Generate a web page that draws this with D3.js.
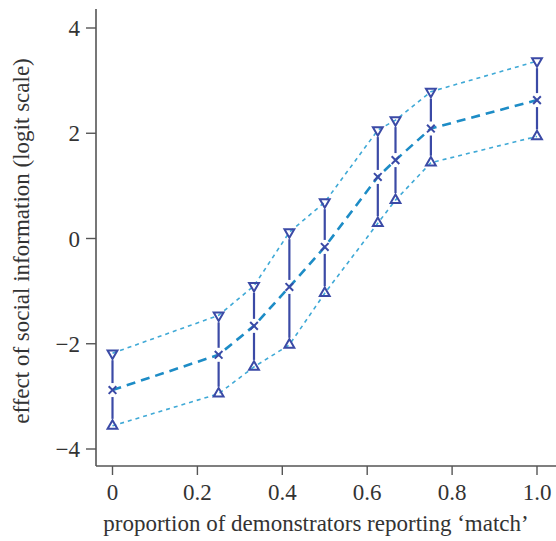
<!DOCTYPE html>
<html>
<head>
<meta charset="utf-8">
<script src="https://cdn.jsdelivr.net/npm/d3@7"></script>
<style>
  body { margin: 0; background: #fff; }
  text { font-family: 'Liberation Serif', 'DejaVu Serif', serif; fill: #333; }
</style>
</head>
<body>
<div id="chart"></div>
<script>
// proportion of demonstrators reporting 'match'
var props = [0, 0.25, 1 / 3, 5 / 12, 0.5, 0.625, 2 / 3, 0.75, 1.0];
// effect of social information (logit scale)
var means = [-2.88, -2.21, -1.66, -0.92, -0.16, 1.17, 1.49, 2.09, 2.63];
var upper = [-2.18, -1.46, -0.90, 0.12, 0.69, 2.06, 2.25, 2.79, 3.37];
var lower = [-3.56, -2.95, -2.44, -2.02, -1.04, 0.29, 0.73, 1.44, 1.94];
var xTicks = [0, 0.2, 0.4, 0.6, 0.8, 1.0];
var yTicks = [-4, -2, 0, 2, 4];

var W = 556, H = 541;
var axisLeft = 96, axisBottom = 466;
var markColor = '#3b4aa6';

var svg = d3.select('#chart')
  .append('svg')
    .attr('width', W)
    .attr('height', H);

var x = d3.scaleLinear().domain([0, 1]).range([112.5, 537]);
var y = d3.scaleLinear().domain([-4, 4]).range([449, 28]);

var rows = props.map((p, i) => ({ p: p, m: means[i], u: upper[i], l: lower[i] }));

// dashed lines through bounds and means
var line = key => d3.line().x(d => x(d.p)).y(d => y(d[key]))(rows);

svg.append('path')
  .attr('d', line('u'))
  .attr('fill', 'none')
  .attr('stroke', '#3fa9d6')
  .attr('stroke-width', 1.6)
  .attr('stroke-dasharray', '4,4');

svg.append('path')
  .attr('d', line('l'))
  .attr('fill', 'none')
  .attr('stroke', '#3fa9d6')
  .attr('stroke-width', 1.6)
  .attr('stroke-dasharray', '4,4');

svg.append('path')
  .attr('d', line('m'))
  .attr('fill', 'none')
  .attr('stroke', '#1d8cc6')
  .attr('stroke-width', 2.6)
  .attr('stroke-dasharray', '9,6');

// error bars, broken around markers
var gap = 7;
var bars = svg.append('g').attr('stroke', markColor).attr('stroke-width', 2.2);
rows.forEach(d => {
  var cx = x(d.p);
  bars.append('line')
    .attr('x1', cx).attr('x2', cx)
    .attr('y1', y(d.u) + gap).attr('y2', y(d.m) - gap);
  bars.append('line')
    .attr('x1', cx).attr('x2', cx)
    .attr('y1', y(d.m) + gap).attr('y2', y(d.l) - gap);
});

// triangle markers
var tri = d3.symbol().type(d3.symbolTriangle).size(42);
svg.append('g').selectAll('path.up')
  .data(rows)
  .join('path')
    .attr('transform', d => `translate(${x(d.p)}, ${y(d.l)})`)
    .attr('d', tri)
    .attr('fill', 'none')
    .attr('stroke', markColor)
    .attr('stroke-width', 2);

svg.append('g').selectAll('path.down')
  .data(rows)
  .join('path')
    .attr('transform', d => `translate(${x(d.p)}, ${y(d.u)}) rotate(180)`)
    .attr('d', tri)
    .attr('fill', 'none')
    .attr('stroke', markColor)
    .attr('stroke-width', 2);

// x marks for means
var cross = d3.symbol().type(d3.symbolX).size(40);
svg.append('g').selectAll('path.cross')
  .data(rows)
  .join('path')
    .attr('transform', d => `translate(${x(d.p)}, ${y(d.m)})`)
    .attr('d', cross)
    .attr('fill', 'none')
    .attr('stroke', markColor)
    .attr('stroke-width', 2);

// axes
var axisColor = '#555';
svg.append('line')
  .attr('x1', axisLeft).attr('x2', axisLeft)
  .attr('y1', 9).attr('y2', axisBottom)
  .attr('stroke', axisColor).attr('stroke-width', 1.6);
svg.append('line')
  .attr('x1', axisLeft).attr('x2', W)
  .attr('y1', axisBottom).attr('y2', axisBottom)
  .attr('stroke', axisColor).attr('stroke-width', 1.6);

var xAxis = svg.append('g');
xTicks.forEach(t => {
  xAxis.append('line')
    .attr('x1', x(t)).attr('x2', x(t))
    .attr('y1', axisBottom).attr('y2', axisBottom + 9)
    .attr('stroke', axisColor).attr('stroke-width', 1.4);
  xAxis.append('text')
    .attr('x', x(t)).attr('y', 500)
    .attr('text-anchor', 'middle')
    .style('font-size', '23px')
    .text(t === 0 ? '0' : d3.format('.1f')(t));
});

var yAxis = svg.append('g');
yTicks.forEach(t => {
  yAxis.append('line')
    .attr('x1', axisLeft - 10).attr('x2', axisLeft)
    .attr('y1', y(t)).attr('y2', y(t))
    .attr('stroke', axisColor).attr('stroke-width', 1.4);
  yAxis.append('text')
    .attr('x', 80).attr('y', y(t) + 8)
    .attr('text-anchor', 'end')
    .style('font-size', '23px')
    .text(t < 0 ? '\u2212' + Math.abs(t) : t);
});

svg.append('text')
  .attr('x', 316).attr('y', 531)
  .attr('text-anchor', 'middle')
  .style('font-size', '23px')
  .text('proportion of demonstrators reporting \u2018match\u2019');

svg.append('text')
  .attr('transform', 'translate(29, 241) rotate(-90)')
  .attr('text-anchor', 'middle')
  .style('font-size', '23px')
  .text('effect of social information (logit scale)');
</script>
</body>
</html>
